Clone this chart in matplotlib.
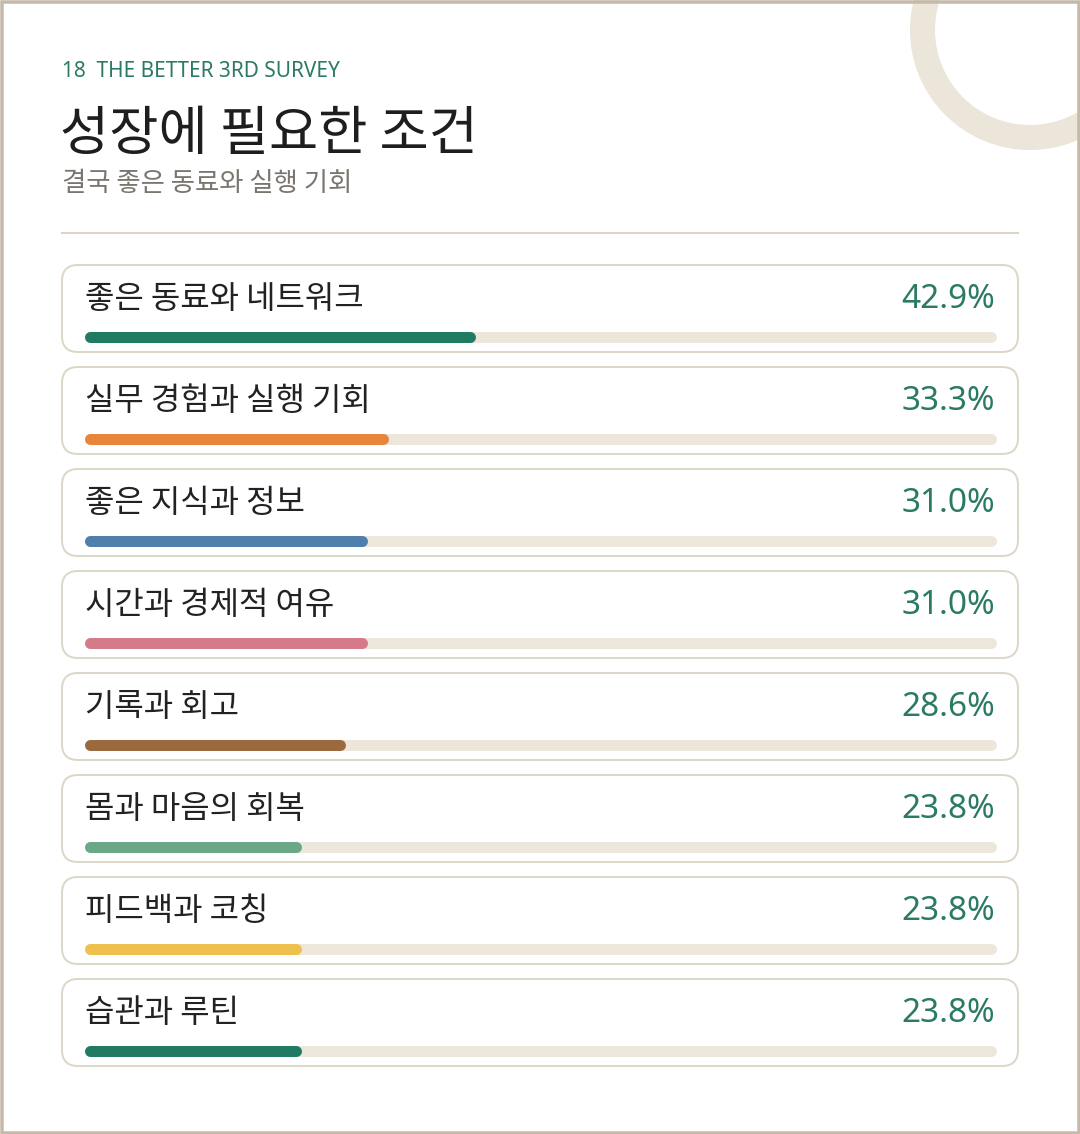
import matplotlib
matplotlib.use("Agg")
import matplotlib.pyplot as plt
from matplotlib.patches import FancyBboxPatch, Circle, Rectangle

plt.rcParams["font.family"] = ["Noto Sans CJK KR", "DejaVu Sans"]

# survey results
labels = ["좋은 동료와 네트워크", "실무 경험과 실행 기회", "좋은 지식과 정보", "시간과 경제적 여유",
          "기록과 회고", "몸과 마음의 회복", "피드백과 코칭", "습관과 루틴"]
values = [42.9, 33.3, 31.0, 31.0, 28.6, 23.8, 23.8, 23.8]
colors = ["#217a62", "#e8853a", "#517fab", "#d47a88", "#9a6a3e", "#6aa886", "#f0c04e", "#217a62"]

header = "18  THE BETTER 3RD SURVEY"
title = "성장에 필요한 조건"
subtitle = "결국 좋은 동료와 실행 기회"

W, H = 1080, 1134
fig = plt.figure(figsize=(W / 100, H / 100), dpi=100)
fig.patch.set_facecolor("white")

# main axes in pixel units
ax = fig.add_axes([0, 0, 1, 1])
ax.set_xlim(0, W)
ax.set_ylim(H, 0)
ax.axis("off")

px = 72 / 100  # one pixel in points

# decorative ring top right
ax.add_patch(Circle((1030, 30), 107.5, fill=False, ec="#ebe5da", lw=25 * px))
# outer frame
ax.add_patch(Rectangle((1.5, 1.5), W - 3, H - 3, fill=False, ec="#c5baa9", lw=3.5 * px, zorder=10))

green = "#2a7a64"
ax.text(62, 77, header, fontsize=15, color=green, family=["Noto Sans", "DejaVu Sans"], va="baseline")
ax.text(60, 150, title, fontsize=38.5, color="#1e1e1e", va="baseline")
ax.text(62, 191, subtitle, fontsize=19, color="#7a756e", va="baseline")
ax.plot([62, 1018], [233, 233], color="#ddd5c8", lw=2 * px)

card_top0, pitch, card_h = 265, 102, 87
for i, (lab, val) in enumerate(zip(labels, values)):
    top = card_top0 + pitch * i
    ax.add_patch(FancyBboxPatch((62, top), 956, card_h,
                                boxstyle="round,pad=0,rounding_size=16",
                                fc="white", ec="#ddd7c8", lw=2 * px))
    ax.text(85, top + 43, lab, fontsize=23, color="#222222", va="baseline")
    ax.text(995, top + 43, f"{val:.1f}%", fontsize=24, color=green,
            family=["Noto Sans", "DejaVu Sans"], ha="right", va="baseline")

# bar axes: x in percent, spanning the track area
x0, x1 = 84, 997
bx = fig.add_axes([x0 / W, 0, (x1 - x0) / W, 1])
bx.set_xlim(0, 100)
bx.set_ylim(H, 0)
bx.axis("off")
bx.patch.set_alpha(0)

lw = 11 * px
r = 5.5 / (x1 - x0) * 100  # cap radius in data units
for i, (val, c) in enumerate(zip(values, colors)):
    yc = card_top0 + pitch * i + 72
    bx.plot([r, 100 - r], [yc, yc], color="#ede6db", lw=lw, solid_capstyle="round")
    bx.plot([r, val - r], [yc, yc], color=c, lw=lw, solid_capstyle="round")

fig.savefig("out.png", dpi=100, facecolor="white")
